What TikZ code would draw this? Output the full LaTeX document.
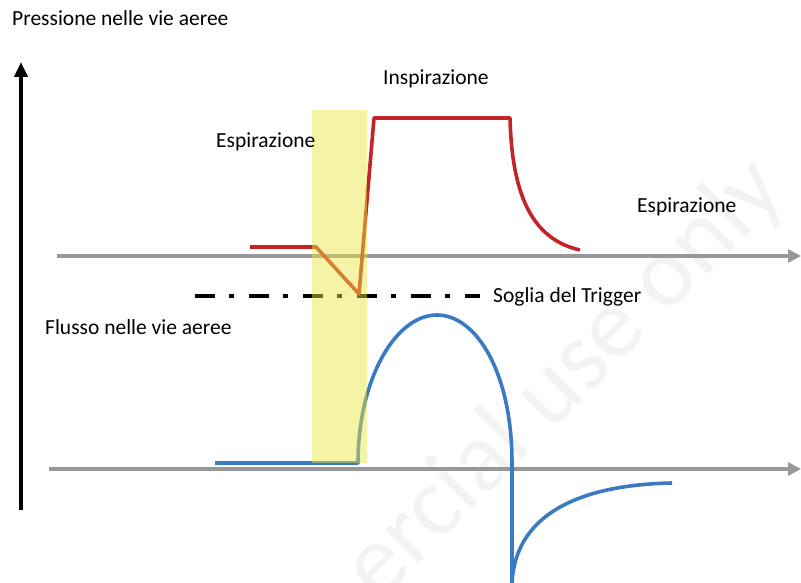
\documentclass[tikz,border=0pt]{standalone}
\usepackage{fontspec}
\setmainfont{Carlito}
\usetikzlibrary{arrows.meta}
\definecolor{axgray}{RGB}{150,152,156}
\definecolor{pred}{RGB}{196,36,38}
\definecolor{fblue}{RGB}{58,122,194}
\definecolor{hyel}{RGB}{234,230,63}
\definecolor{wmark}{RGB}{243,243,243}
\tikzset{
  lbl/.style={inner sep=0pt, anchor=base west, font=\fontsize{21.5}{24}\selectfont, text=black},
  axisline/.style={draw=axgray, line width=4pt, -{Triangle[length=13pt,width=13pt]}},
  pcurve/.style={draw=pred, line width=3.6pt, line join=round},
  fcurve/.style={draw=fblue, line width=3.6pt, line join=round},
  trig/.style={draw=black, line width=4pt, dash pattern=on 20pt off 14pt on 5pt off 15pt},
}
\begin{document}
\begin{tikzpicture}[x=1pt,y=-1pt]
\useasboundingbox (0,0) rectangle (801,583);
\begin{scope}
\clip (0,0) rectangle (801,583);
\node[rotate=45, text=wmark, font=\fontsize{100}{110}\selectfont, inner sep=0pt] (wm) at (565,380) {ercial use only};
\end{scope}
% vertical axis
\coordinate (vb) at (21,510);
\coordinate (vt) at (21,62);
\draw[line width=4pt, -{Triangle[length=15pt,width=13pt]}] (vb) -- (vt);
% horizontal axes
\coordinate (a1s) at (57,256);
\coordinate (a1e) at (801,256);
\coordinate (a2s) at (49,469);
\coordinate (a2e) at (801,469);
\draw[axisline] (a1s) -- (a1e);
\draw[axisline] (a2s) -- (a2e);
% trigger threshold
\coordinate (ts) at (195,296);
\coordinate (te) at (480,296);
\draw[trig] (ts) -- (te);
% pressure curve
\coordinate (p0) at (250,247);
\coordinate (p1) at (316,247);
\coordinate (p2) at (359,294);
\coordinate (p3) at (374,118);
\coordinate (p4) at (510,118);
\coordinate (p5) at (580,250);
\draw[pcurve] (p0) -- (p1) -- (p2) -- (p3) -- (p4) .. controls (512,200) and (535,240) .. (p5);
% flow curve
\coordinate (f0) at (215,463);
\coordinate (f1) at (358,463);
\coordinate (f2) at (437,315);
\coordinate (f3) at (512,463);
\coordinate (f4) at (512,583);
\coordinate (f5) at (672,483);
\draw[fcurve] (f0) -- (f1) .. controls (358,380) and (395,315) .. (f2)
  .. controls (476,315) and (512,372) .. (f3) -- (f4);
\draw[fcurve] (f4) .. controls (515,520) and (570,485) .. (f5);
% trigger window
\fill[hyel, fill opacity=0.47] (312,110) rectangle (367,463);
% labels
\node[lbl] (title) at (12,26) {Pressione nelle vie aeree};
\node[lbl] (esp1) at (216,148) {Espirazione};
\node[lbl] (insp) at (383,85) {Inspirazione};
\node[lbl] (esp2) at (637,212) {Espirazione};
\node[lbl] (sog) at (493,302) {Soglia del Trigger};
\node[lbl] (flus) at (45,334) {Flusso nelle vie aeree};
\end{tikzpicture}
\end{document}
